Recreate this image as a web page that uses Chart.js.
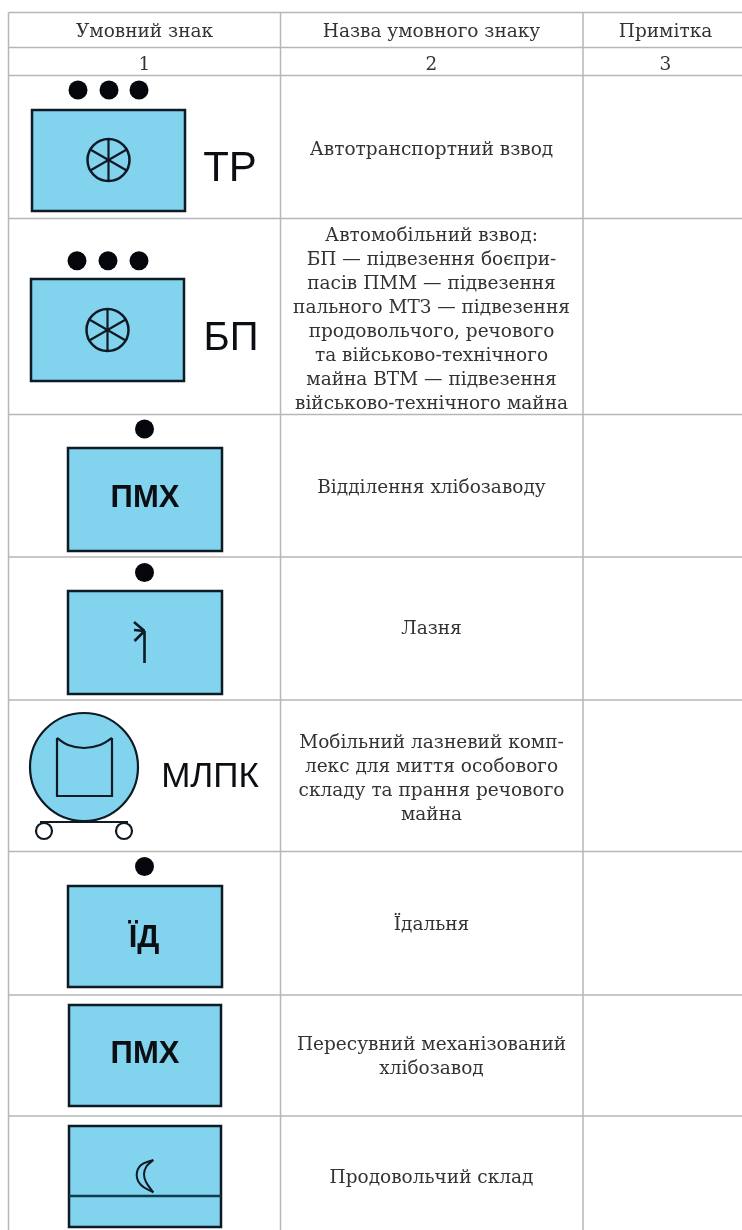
<!DOCTYPE html>
<html>
<head>
<meta charset="utf-8">
<style>
  html, body { margin: 0; padding: 0; background: #fff; }
  canvas { display: block; }
</style>
<script src="https://cdn.jsdelivr.net/npm/chart.js@4"></script>
</head>
<body>
<canvas id="chart" width="742" height="1230"></canvas>
<script>
// table
const headerTitles = ["Умовний знак", "Назва умовного знаку", "Примітка"];
const headerNumbers = ["1", "2", "3"];
const signNames = [
  ["Автотранспортний взвод"],
  ["Автомобільний взвод:", "БП — підвезення боєпри-", "пасів ПММ — підвезення", "пального МТЗ — підвезення", "продовольчого, речового", "та військово-технічного", "майна ВТМ — підвезення", "військово-технічного майна"],
  ["Відділення хлібозаводу"],
  ["Лазня"],
  ["Мобільний лазневий комп-", "лекс для миття особового", "складу та прання речового", "майна"],
  ["Їдальня"],
  ["Пересувний механізований", "хлібозавод"],
  ["Продовольчий склад"],
];
const nameBaselines = [155, 240.5, 493, 634, 747.5, 930, 1050, 1182.5];
const rowEdges = [12.5, 47.5, 75.5, 218.5, 414.5, 557, 700, 851.5, 995, 1116];
const columnEdges = [8.5, 280.5, 583];
const columnCentres = [144.5, 431.5, 665.5];

// signs: left, top, right, bottom
const signBoxes = [
  [32, 110, 185, 211],
  [31, 279, 184, 381],
  [68, 448, 222, 551],
  [68, 591, 222, 694],
  [68, 886, 222, 987],
  [69, 1005, 221, 1106],
  [69, 1126, 221, 1227],
];
const dots = [
  [78, 90], [109, 90], [139, 90],
  [77, 260.7], [108, 260.7], [139, 260.7],
  [144.5, 429], [144.5, 572.5], [144.5, 866.5],
];
const wheelCentres = [[108.5, 160], [107.5, 330]];
const wheelSpokes = [[0, -21, 0, 21], [-18.2, -10.5, 18.2, 10.5], [-18.2, 10.5, 18.2, -10.5]];
const signCaptions = [
  { text: "ТР", x: 230, y: 181, bold: false, size: 42 },
  { text: "БП", x: 231, y: 350, bold: false, size: 40 },
  { text: "ПМХ", x: 145, y: 507, bold: true, size: 31 },
  { text: "МЛПК", x: 210, y: 787, bold: false, size: 35 },
  { text: "ЇД", x: 144, y: 947, bold: true, size: 31 },
  { text: "ПМХ", x: 145, y: 1062.5, bold: true, size: 31 },
];
const bathArrow = [
  [[144.5, 663], [144.5, 631]],
  [[134, 622], [144.5, 631]],
  [[134, 630], [144.5, 631]],
  [[134.5, 641], [144.5, 631]],
];
const tank = { centre: [84, 767], wheels: [[44, 831], [124, 831]], rail: [[40, 822], [128, 822]] };
const tankInnerSides = [[57, 738], [57, 796], [112, 796], [112, 738]];
const tankInnerTop = [[57, 738], [68, 745], [84, 748], [100, 745], [112, 738]];
const storeShelf = [[69, 1196], [221, 1196]];
const crescentOuter = [[153.3, 1160], [141, 1165], [136.7, 1175], [141, 1185], [153.3, 1192.3]];
const crescentInner = [[153.3, 1160], [146.7, 1166], [144, 1174], [146, 1182], [153.3, 1192.3]];

const GRID = "#b6b6b6";
const INK = "#0e1a24";
const BLUE = "#82d3ee";
const TEXT = "#333333";
const SERIF = '"DejaVu Serif", serif';
const SANS = '"Liberation Sans", Arial, sans-serif';

const xy = (p) => ({ x: p[0], y: p[1] });

function lineSet(pts, color, width, extra) {
  return Object.assign({
    data: pts.map(xy), showLine: true, borderColor: color, borderWidth: width,
    pointRadius: 0, fill: false, tension: 0, clip: false,
  }, extra);
}

function dotSet(pts, radius, fill, border, width) {
  return {
    data: pts.map(xy), showLine: false, pointStyle: "circle", pointRadius: radius,
    backgroundColor: fill, borderColor: border, borderWidth: width, clip: false,
  };
}

const painted = [];

// table rules
rowEdges.forEach((y) => painted.push(lineSet([[columnEdges[0], y], [742, y]], GRID, 1.5)));
columnEdges.forEach((x) => painted.push(lineSet([[x, rowEdges[0]], [x, 1230]], GRID, 1.5)));

signBoxes.forEach((b) => {
  const pts = [[b[0], b[1]], [b[2], b[1]], [b[2], b[3]], [b[0], b[3]], [b[0], b[1]]];
  painted.push(lineSet(pts, INK, 2.5, { fill: "shape", backgroundColor: BLUE, borderJoinStyle: "miter", borderCapStyle: "square" }));
});
painted.push(dotSet(dots, 9.5, "#05070c", "#05070c", 0));

wheelCentres.forEach((c) => {
  painted.push(dotSet([c], 21, "transparent", INK, 2.5));
  wheelSpokes.forEach((s) => painted.push(lineSet([[c[0] + s[0], c[1] + s[1]], [c[0] + s[2], c[1] + s[3]]], INK, 2.2)));
});

bathArrow.forEach((seg) => painted.push(lineSet(seg, INK, 2.6)));

painted.push(lineSet(tank.rail, INK, 2.2));
painted.push(dotSet(tank.wheels, 8, "#ffffff", INK, 2.2));
painted.push(dotSet([tank.centre], 54, BLUE, INK, 2.2));
painted.push(lineSet(tankInnerSides, INK, 2.2, { borderJoinStyle: "miter" }));
painted.push(lineSet(tankInnerTop, INK, 2.2, { tension: 0.4 }));

painted.push(lineSet(storeShelf, "#123a4c", 2.5));
painted.push(lineSet(crescentOuter, INK, 2, { tension: 0.4 }));
painted.push(lineSet(crescentInner, INK, 2, { tension: 0.4 }));

// small plugin for the table text and the captions on the signs
const tableText = {
  id: "tableText",
  afterDatasetsDraw(chart) {
    const { ctx, scales } = chart;
    const put = (str, x, y, font, color) => {
      ctx.font = font;
      ctx.fillStyle = color;
      ctx.fillText(str, scales.x.getPixelForValue(x), scales.y.getPixelForValue(y));
    };
    ctx.save();
    ctx.textAlign = "center";
    ctx.textBaseline = "alphabetic";
    const body = "18.5px " + SERIF;
    headerTitles.forEach((t, i) => put(t, columnCentres[i], 37, body, TEXT));
    headerNumbers.forEach((t, i) => put(t, columnCentres[i], 70, body, TEXT));
    signNames.forEach((lines, r) => {
      lines.forEach((line, i) => put(line, columnCentres[1], nameBaselines[r] + i * 24, body, TEXT));
    });
    signCaptions.forEach((c) => {
      put(c.text, c.x, c.y, (c.bold ? "bold " : "") + c.size + "px " + SANS, "#0b0f14");
    });
    ctx.restore();
  },
};

new Chart(document.getElementById("chart"), {
  type: "scatter",
  data: { datasets: painted.slice().reverse() },
  options: {
    responsive: false,
    animation: false,
    layout: { padding: 0, autoPadding: false },
    plugins: { legend: { display: false }, tooltip: { enabled: false } },
    scales: {
      x: { type: "linear", min: 0, max: 742, display: false },
      y: { type: "linear", min: 0, max: 1230, reverse: true, display: false },
    },
  },
  plugins: [tableText],
});
</script>
</body>
</html>
